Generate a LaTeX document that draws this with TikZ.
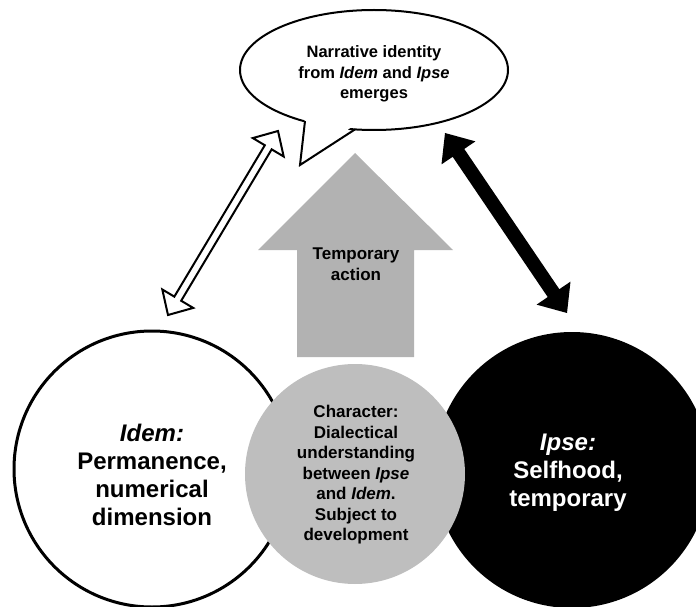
\documentclass[tikz,border=0pt]{standalone}
\usepackage{fontspec}
\setmainfont{Liberation Sans}
\usetikzlibrary{calc,shapes.geometric}
\definecolor{arrowgray}{RGB}{178,178,178}
\definecolor{circgray}{RGB}{190,190,190}
% double-headed block arrow: #1 style, #2 tip A, #3 tip B, #4 head length, #5 head half-width, #6 shaft half-width
\newcommand\blockdblarrow[6]{%
  \path[#1] (#2)
    -- ($($(#2)!#4!(#3)$)!#5!90:(#3)$)
    -- ($($(#2)!#4!(#3)$)!#6!90:(#3)$)
    -- ($($(#3)!#4!(#2)$)!#6!-90:(#2)$)
    -- ($($(#3)!#4!(#2)$)!#5!-90:(#2)$)
    -- (#3)
    -- ($($(#3)!#4!(#2)$)!#5!90:(#2)$)
    -- ($($(#3)!#4!(#2)$)!#6!90:(#2)$)
    -- ($($(#2)!#4!(#3)$)!#6!-90:(#3)$)
    -- ($($(#2)!#4!(#3)$)!#5!-90:(#3)$)
    -- cycle;}
\begin{document}
\begin{tikzpicture}[x=1pt,y=-1pt,
  txt/.style={align=center, inner sep=0pt},
  bigtxt/.style={txt, font=\fontsize{24}{28}\selectfont\bfseries},
  midtxt/.style={txt, font=\fontsize{17}{20.5}\selectfont\bfseries},
  smalltxt/.style={txt, font=\fontsize{16.5}{20.5}\selectfont\bfseries},
  round/.style={circle, inner sep=0pt}]
\useasboundingbox (0,0) rectangle (696,607);

% circles
\node[round, draw=black, line width=3pt, fill=white, minimum size=276pt] (idem) at (152,469) {};
\node[round, fill=black, minimum size=276pt] (ipse) at (572,470) {};
\node[round, fill=circgray, minimum size=220pt] (character) at (355,474) {};

\node[bigtxt] (idemtxt) at (152,475) {\textit{Idem:}\\Permanence,\\numerical\\dimension};
\node[bigtxt, text=white] (ipsetxt) at (568,473) {\textit{Ipse:}\\Selfhood,\\temporary};
\node[midtxt] (chartxt) at (356,475) {Character:\\Dialectical\\understanding\\between \textit{Ipse}\\and \textit{Idem}.\\Subject to\\development};

% big gray up arrow
\fill[arrowgray] (355,153) -- (453,250) -- (414,250) -- (414,357) -- (297,357) -- (297,250) -- (258,250) -- cycle;
\node[midtxt] (action) at (356,264) {Temporary\\action};

% speech bubble
\node[ellipse, draw=black, line width=2pt, fill=white, minimum width=268pt, minimum height=120pt, inner sep=0pt] (bubble) at (374,70) {};
\coordinate (tailL) at (305,121);
\coordinate (tailR) at (355,129.4);
\coordinate (tailtip) at (300,165);
\fill[white] (305,116) -- (tailtip) -- (355,124.5) -- cycle;
\draw[line width=2pt, line join=miter] (tailL) -- (tailtip) -- (tailR);
\node[smalltxt] (bubtxt) at (374,74) {Narrative identity\\from \textit{Idem} and \textit{Ipse}\\emerges};

% double arrows
\coordinate (la) at (278,131);
\coordinate (lb) at (168,315);
\blockdblarrow{fill=white, draw=black, line width=2pt, line join=miter}{la}{lb}{19pt}{18pt}{4pt}
\coordinate (ra) at (445,133);
\coordinate (rb) at (567,313);
\blockdblarrow{fill=black}{ra}{rb}{24pt}{20.5pt}{7pt}
\end{tikzpicture}
\end{document}
